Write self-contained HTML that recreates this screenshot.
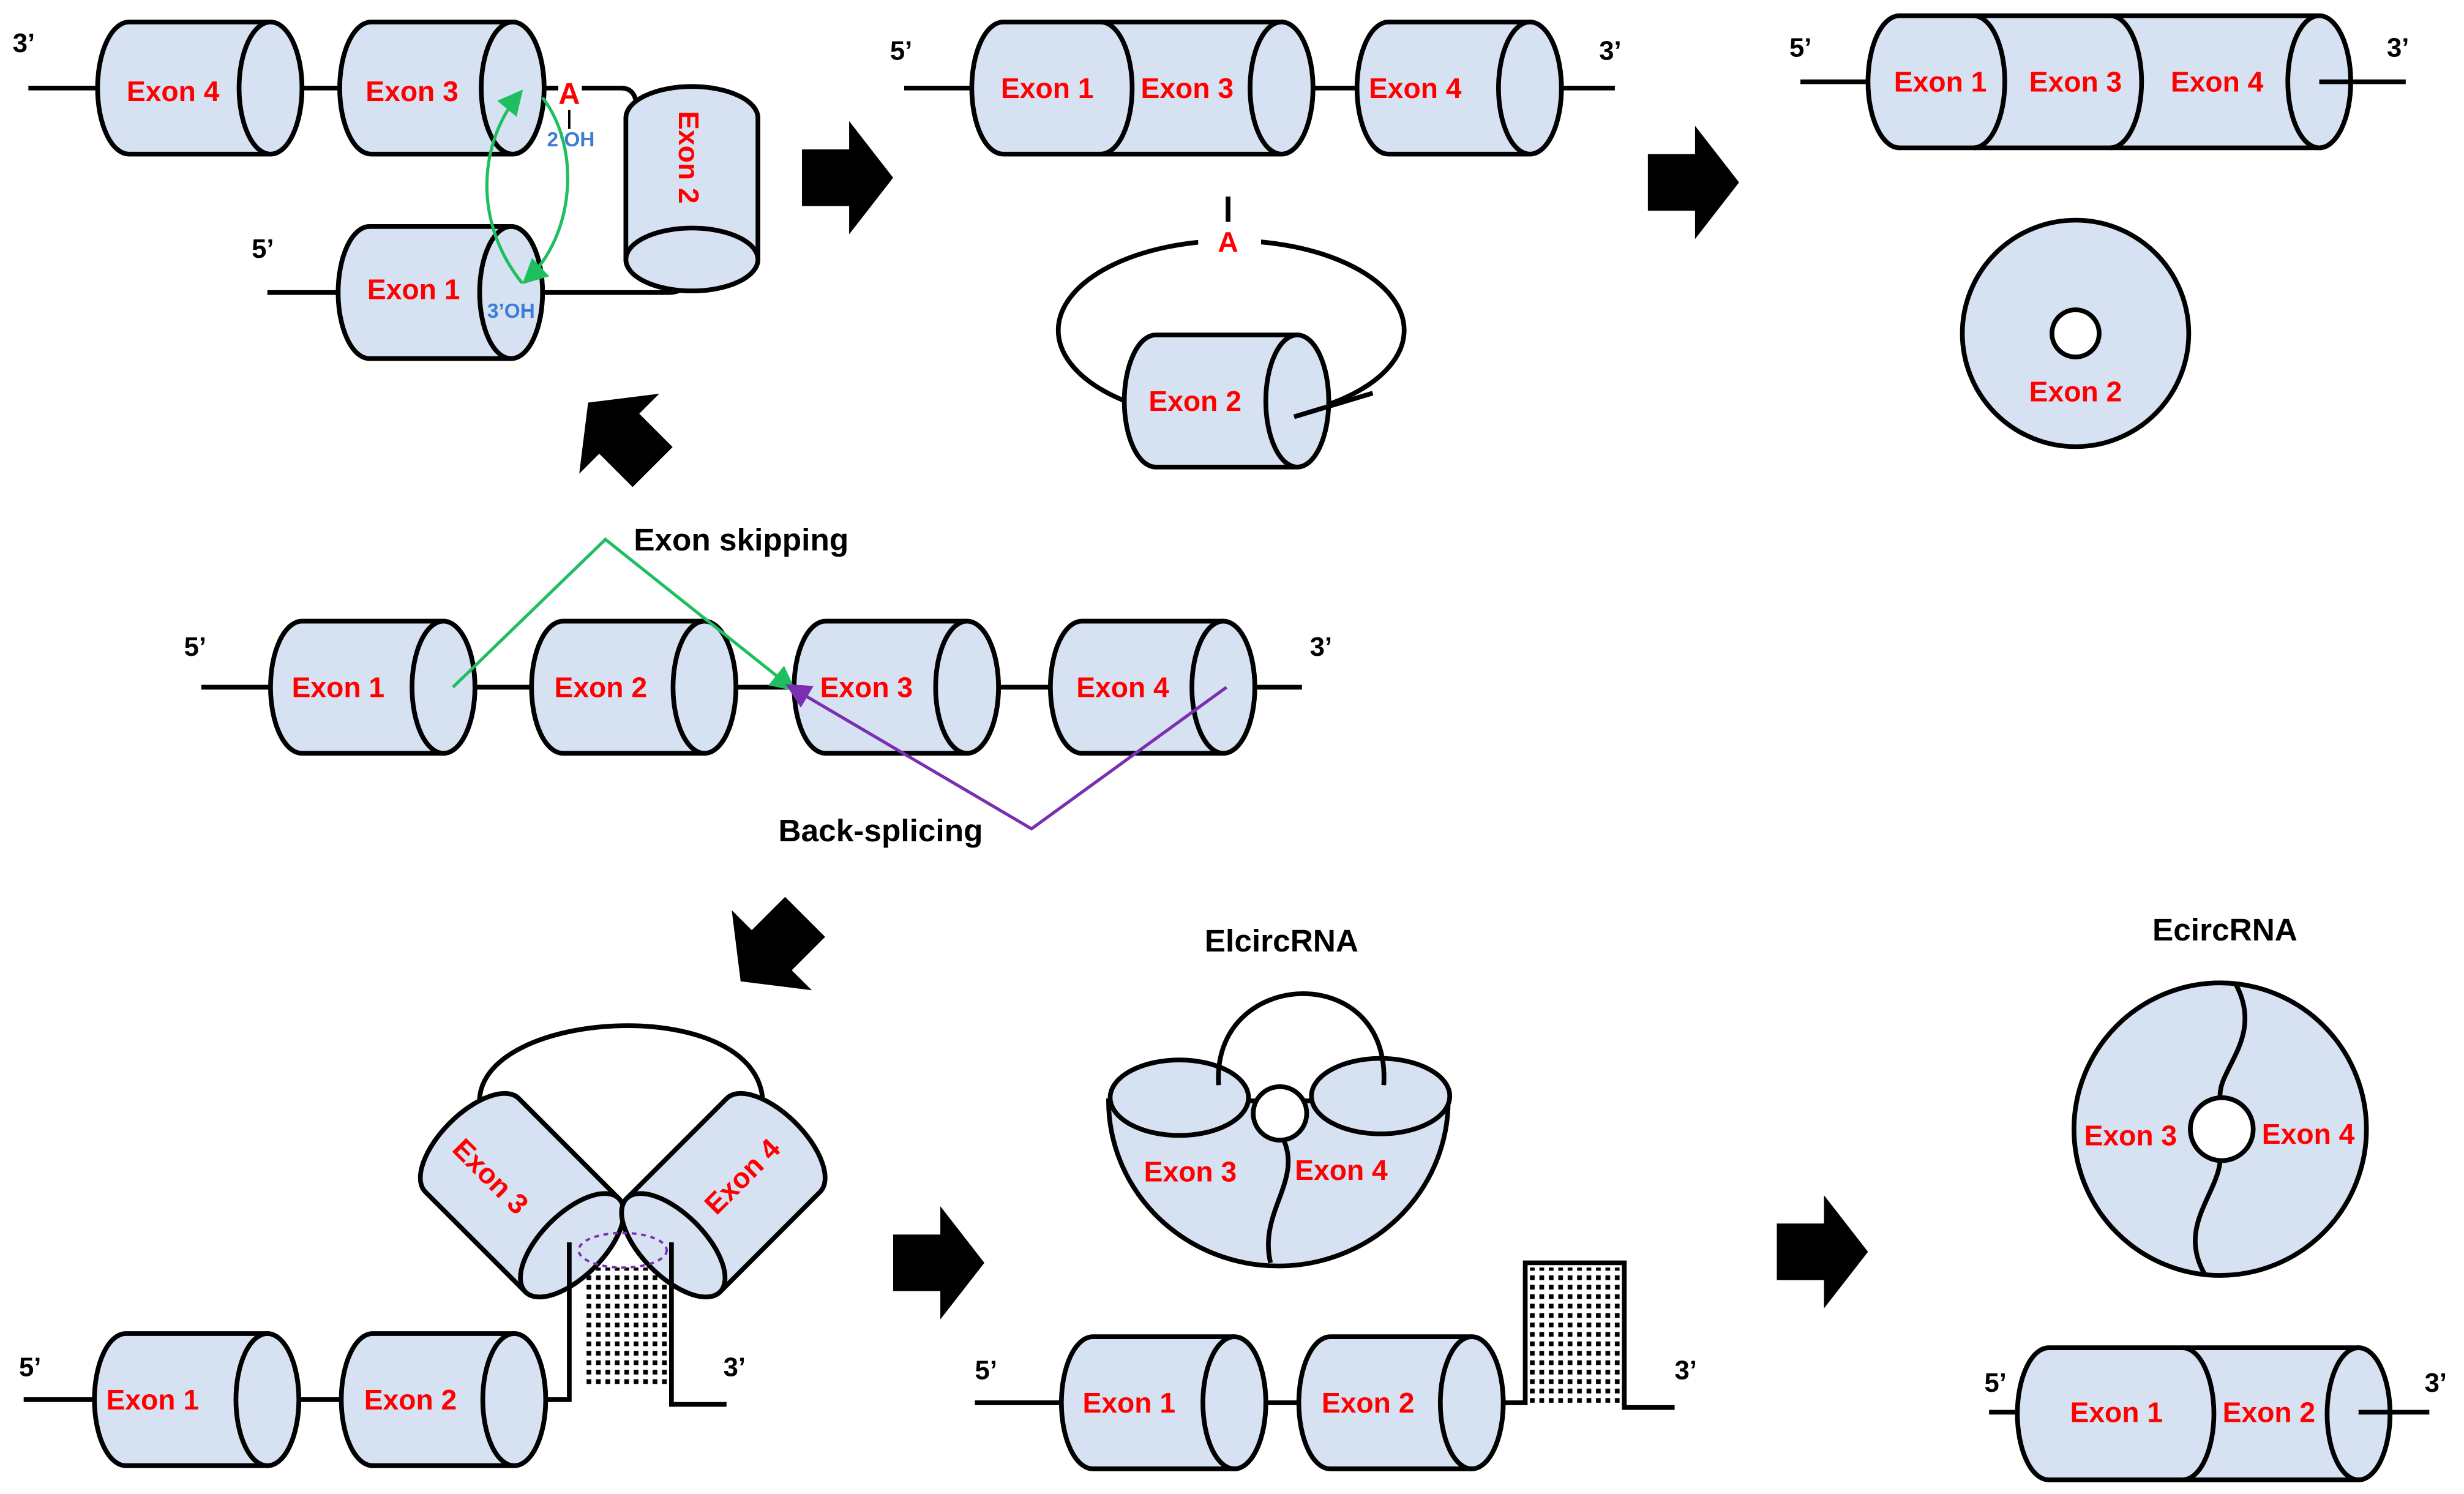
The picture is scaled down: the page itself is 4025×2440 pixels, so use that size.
<!DOCTYPE html>
<html><head><meta charset="utf-8"><style>
html,body{margin:0;padding:0;background:#fff;}
svg{display:block;}
.t{font-family:"Liberation Sans",sans-serif;font-weight:bold;}
.ex{fill:#ff0000;font-size:18px;text-anchor:middle;dominant-baseline:central;}
.lb{fill:#000;font-size:17px;}
.ln{stroke:#000;stroke-width:3;fill:none;}
</style></head><body>
<svg width="4025" height="2440" viewBox="0 0 1567 950" xmlns="http://www.w3.org/2000/svg">
<defs>
<g id="cyl">
<path d="M20,0 H110 A20,42 0 0 1 110,84 H20 A20,42 0 0 1 20,0 Z" fill="#d6e2f2" stroke="#000" stroke-width="3"/>
<ellipse cx="110" cy="42" rx="20" ry="42" fill="#d6e2f2" stroke="#000" stroke-width="3"/>
</g>
<marker id="ga" markerWidth="8" markerHeight="8" refX="6" refY="4" orient="auto"><path d="M0,0 L8,4 L0,8 Z" fill="#1fbf5f"/></marker>
<marker id="pa" markerWidth="8" markerHeight="8" refX="6" refY="4" orient="auto"><path d="M0,0 L8,4 L0,8 Z" fill="#7a2fb0"/></marker>
<g id="arr"><polygon points="0,18 30,18 30,0 58,36 30,72 30,54 0,54" fill="#000"/></g>
<pattern id="dots" width="6" height="6" patternUnits="userSpaceOnUse"><rect x="1" y="1" width="3" height="3" fill="#000"/></pattern>
</defs>

<!-- Panel 1 -->
<path class="ln" d="M18,56 H62 M190,56 H216 M346,56 H355 M370,56 H395 Q405,56 405,70"/>
<path class="ln" d="M170,186 H215 M345,186 H425 Q440,186 440,168"/>
<use href="#cyl" x="62" y="14"/><text class="t ex" x="110" y="58">Exon 4</text>
<use href="#cyl" x="216" y="14"/><text class="t ex" x="262" y="58">Exon 3</text>
<use href="#cyl" x="215" y="144"/><text class="t ex" x="263" y="184">Exon 1</text>
<use href="#cyl" transform="translate(482,55) rotate(90)"/>
<text class="t ex" transform="translate(438,100) rotate(90)">Exon 2</text>
<text class="t" x="362" y="66" fill="#ff0000" font-size="19" text-anchor="middle">A</text>
<path d="M362,70 V82" stroke="#000" stroke-width="1.5"/>
<text class="t" x="363" y="93" fill="#3b7dd8" font-size="13" text-anchor="middle">2’OH</text>
<text class="t" x="325" y="202" fill="#3b7dd8" font-size="13" text-anchor="middle">3’OH</text>
<path d="M332,180 C300,140 305,90 330,60" stroke="#1fbf5f" stroke-width="2" fill="none" marker-end="url(#ga)"/>
<path d="M345,62 C370,95 365,150 335,178" stroke="#1fbf5f" stroke-width="2" fill="none" marker-end="url(#ga)"/>
<text class="t lb" x="8" y="33">3’</text>
<text class="t lb" x="160" y="164">5’</text>

<use href="#arr" x="510" y="77"/>
<use href="#arr" x="1048" y="80"/>

<!-- Panel 2 -->
<path class="ln" d="M575,56 H618 M835,56 H863 M993,56 H1027"/>
<path d="M638,14 H815 A20,42 0 0 1 815,98 H638 A20,42 0 0 1 638,14 Z" fill="#d6e2f2" stroke="#000" stroke-width="3"/>
<ellipse cx="815" cy="56" rx="20" ry="42" fill="#d6e2f2" stroke="#000" stroke-width="3"/>
<path class="ln" d="M700,14 A20,42 0 0 1 700,98"/>
<text class="t ex" x="666" y="56">Exon 1</text><text class="t ex" x="755" y="56">Exon 3</text>
<use href="#cyl" x="863" y="14"/><text class="t ex" x="900" y="56">Exon 4</text>
<text class="t lb" x="566" y="38">5’</text><text class="t lb" x="1017" y="38">3’</text>
<ellipse cx="783" cy="210" rx="110" ry="57" class="ln"/>
<rect x="762" y="140" width="40" height="26" fill="#fff"/>
<path d="M781,125 V141" stroke="#000" stroke-width="3"/>
<text class="t" x="781" y="160" fill="#ff0000" font-size="18" text-anchor="middle">A</text>
<use href="#cyl" x="715" y="213"/><text class="t ex" x="760" y="255">Exon 2</text>
<path class="ln" d="M823,265 L873,250"/>
<text class="t lb" x="1138" y="36">5’</text><text class="t lb" x="1518" y="36">3’</text>

<!-- Panel 3 -->
<path class="ln" d="M1145,52 H1190"/>
<path d="M1208,10 H1475 A20,42 0 0 1 1475,94 H1208 A20,42 0 0 1 1208,10 Z" fill="#d6e2f2" stroke="#000" stroke-width="3"/>
<ellipse cx="1475" cy="52" rx="20" ry="42" fill="#d6e2f2" stroke="#000" stroke-width="3"/>
<path class="ln" d="M1255,10 A20,42 0 0 1 1255,94 M1342,10 A20,42 0 0 1 1342,94"/>
<path class="ln" d="M1475,52 H1530"/>
<text class="t ex" x="1234" y="52">Exon 1</text><text class="t ex" x="1320" y="52">Exon 3</text><text class="t ex" x="1410" y="52">Exon 4</text>
<circle cx="1320" cy="212" r="72" fill="#d6e2f2" stroke="#000" stroke-width="3"/>
<circle cx="1320" cy="212" r="15" fill="#fff" stroke="#000" stroke-width="3"/>
<text class="t ex" x="1320" y="249">Exon 2</text>

<!-- up-left arrow -->
<use href="#arr" transform="translate(415,297) rotate(-135) translate(0,-36)"/>

<!-- Middle row -->
<path class="ln" d="M128,437 H828"/>
<use href="#cyl" x="172" y="395"/><text class="t ex" x="215" y="437">Exon 1</text>
<use href="#cyl" x="338" y="395"/><text class="t ex" x="382" y="437">Exon 2</text>
<use href="#cyl" x="505" y="395"/><text class="t ex" x="551" y="437">Exon 3</text>
<use href="#cyl" x="668" y="395"/><text class="t ex" x="714" y="437">Exon 4</text>
<text class="t lb" x="117" y="417">5’</text><text class="t lb" x="833" y="417">3’</text>
<path d="M288,437 L385,343 L503,437" stroke="#1fbf5f" stroke-width="2" fill="none" marker-end="url(#ga)"/>
<path d="M780,437 L656,527 L503,437" stroke="#7a2fb0" stroke-width="2" fill="none" marker-end="url(#pa)"/>
<text class="t" x="403" y="350" font-size="20">Exon skipping</text>
<text class="t" x="495" y="535" font-size="20">Back-splicing</text>

<!-- down-left arrow -->
<use href="#arr" transform="translate(512,583) rotate(135) translate(0,-36)"/>

<!-- Bottom-left -->
<path class="ln" d="M305,703 C300,640 490,630 485,705"/>
<rect x="368" y="800" width="59" height="85" fill="#fff"/>
<rect x="370" y="806" width="55" height="76" fill="url(#dots)"/>
<g transform="translate(332,760) rotate(45) translate(-65,-42)"><use href="#cyl"/></g>
<text class="t ex" transform="translate(312,748) rotate(45)">Exon 3</text>
<g transform="translate(460,760) rotate(135) translate(-65,-42)"><use href="#cyl"/></g>
<text class="t ex" transform="translate(472,748) rotate(-45)">Exon 4</text>
<ellipse cx="396" cy="795" rx="28" ry="11" stroke="#7a2fb0" stroke-width="1.5" stroke-dasharray="3,3" fill="none"/>
<path class="ln" d="M15,890 H60 M190,890 H217 M345,890 H362 V790 M427,790 V893 H462"/>
<use href="#cyl" x="60" y="848"/><text class="t ex" x="97" y="890">Exon 1</text>
<use href="#cyl" x="217" y="848"/><text class="t ex" x="261" y="890">Exon 2</text>
<text class="t lb" x="12" y="875">5’</text><text class="t lb" x="460" y="875">3’</text>

<use href="#arr" x="568" y="767"/>
<use href="#arr" x="1130" y="760"/>

<!-- Bottom-middle -->
<text class="t" x="815" y="605" font-size="20" text-anchor="middle">ElcircRNA</text>
<path d="M705,700 A108,105 0 0 0 921,700 Z" fill="#d6e2f2" stroke="#000" stroke-width="3"/>
<path class="ln" d="M815,722 C830,750 800,770 808,803"/>
<circle cx="814" cy="708" r="17" fill="#fff" stroke="#000" stroke-width="3"/>
<ellipse cx="750" cy="698" rx="44" ry="24" fill="#d6e2f2" stroke="#000" stroke-width="3"/>
<ellipse cx="878" cy="697" rx="44" ry="24" fill="#d6e2f2" stroke="#000" stroke-width="3"/>
<path class="ln" d="M775,690 C770,615 885,610 880,690"/>
<text class="t ex" x="757" y="745">Exon 3</text><text class="t ex" x="853" y="744">Exon 4</text>
<rect x="972" y="806" width="59" height="86" fill="url(#dots)"/>
<path class="ln" d="M620,892 H675 M805,892 H826 M955,892 H970 V803 H1033 V895 H1065"/>
<use href="#cyl" x="675" y="850"/><text class="t ex" x="718" y="892">Exon 1</text>
<use href="#cyl" x="826" y="850"/><text class="t ex" x="870" y="892">Exon 2</text>
<text class="t lb" x="620" y="877">5’</text><text class="t lb" x="1065" y="877">3’</text>

<!-- Bottom-right -->
<text class="t" x="1415" y="598" font-size="20" text-anchor="middle">EcircRNA</text>
<circle cx="1412" cy="718" r="93" fill="#d6e2f2" stroke="#000" stroke-width="3"/>
<path class="ln" d="M1422,626 C1440,660 1410,680 1412,698 M1412,738 C1410,760 1385,780 1402,810"/>
<circle cx="1413" cy="718" r="20" fill="#fff" stroke="#000" stroke-width="3"/>
<text class="t ex" x="1355" y="722">Exon 3</text><text class="t ex" x="1468" y="721">Exon 4</text>
<path class="ln" d="M1265,898 H1290"/>
<path d="M1303,857 H1500 A20,42 0 0 1 1500,941 H1303 A20,42 0 0 1 1303,857 Z" fill="#d6e2f2" stroke="#000" stroke-width="3"/>
<ellipse cx="1500" cy="899" rx="20" ry="42" fill="#d6e2f2" stroke="#000" stroke-width="3"/>
<path class="ln" d="M1388,857 A20,42 0 0 1 1388,941 M1500,898 H1545"/>
<text class="t ex" x="1346" y="898">Exon 1</text><text class="t ex" x="1443" y="898">Exon 2</text>
<text class="t lb" x="1262" y="885">5’</text><text class="t lb" x="1542" y="885">3’</text>
</svg>
</body></html>
